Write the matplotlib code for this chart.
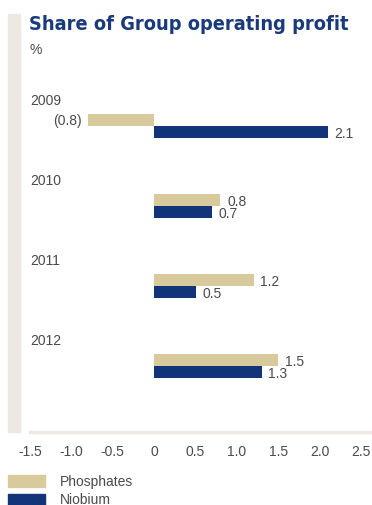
import matplotlib.pyplot as plt
from matplotlib.patches import Rectangle

years = ['2009', '2010', '2011', '2012']
phosphates = [-0.8, 0.8, 1.2, 1.5]
niobium = [2.1, 0.7, 0.5, 1.3]
xticks = [-1.5, -1.0, -0.5, 0, 0.5, 1.0, 1.5, 2.0, 2.5]
xtick_labels = ['-1.5', '-1.0', '-0.5', '0', '0.5', '1.0', '1.5', '2.0', '2.5']

phos_color = '#d9ca9e'
niob_color = '#12357a'
grey_bar = '#ede9e2'
text_color = '#4a4a4a'

plt.rcParams['font.family'] = ['Liberation Sans', 'DejaVu Sans']

W, H = 372, 506
fig = plt.figure(figsize=(W / 100, H / 100), dpi=100)

# vertical accent strip on the left
fig.patches.append(Rectangle((8 / W, 1 - 433 / H), 12 / W, 418 / H,
                             transform=fig.transFigure, color=grey_bar, zorder=0))

fig.text(29 / W, 1 - 25 / H, 'Share of Group operating profit', fontsize=14.3,
         fontweight='bold', fontstretch='condensed', family='DejaVu Sans',
         color='#1a3a7c', va='center', ha='left')
fig.text(30 / W, 1 - 50 / H, '%', fontsize=10, color=text_color, va='center')

ax = fig.add_axes([30 / W, 1 - 433 / H, 342 / W, 348 / H])
ax.set_xlim(-1.5, 2.63)
ax.set_ylim(3.825, -0.525)

bh = 0.15
for i, (p, n) in enumerate(zip(phosphates, niobium)):
    ax.barh(i - bh / 2, p, height=bh, color=phos_color, edgecolor='none')
    ax.barh(i + bh / 2, n, height=bh, color=niob_color, edgecolor='none')
    ax.text(-1.5, i - 0.33, years[i], fontsize=10, color=text_color,
            va='center', ha='left')
    for v, y in ((p, i - bh / 2), (n, i + bh / 2)):
        if v < 0:
            ax.text(v - 0.08, y, f'({abs(v):.1f})', fontsize=10, color=text_color,
                    va='center', ha='right')
        else:
            ax.text(v + 0.08, y + 0.01, f'{v:.1f}', fontsize=10, color=text_color,
                    va='center', ha='left')

for side in ['top', 'right', 'left']:
    ax.spines[side].set_visible(False)
ax.spines['bottom'].set_color(grey_bar)
ax.spines['bottom'].set_linewidth(2.5)
ax.set_yticks([])
ax.set_xticks(xticks)
ax.set_xticklabels(xtick_labels)
ax.tick_params(axis='x', length=0, pad=9, labelsize=10, labelcolor=text_color)

# legend swatches
for k, (lab, col) in enumerate([('Phosphates', phos_color), ('Niobium', niob_color)]):
    y0 = 476 + k * 18.5
    fig.patches.append(Rectangle((8 / W, 1 - (y0 + 11.5) / H), 37 / W, 11.5 / H,
                                 transform=fig.transFigure, color=col))
    fig.text(60 / W, 1 - (y0 + 6) / H, lab, fontsize=10, color=text_color, va='center')

fig.savefig('out.png', dpi=100)
